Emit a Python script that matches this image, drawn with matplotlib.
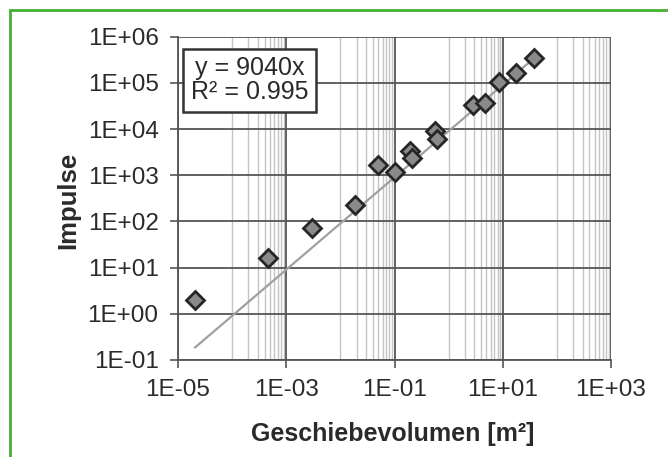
import numpy as np
import matplotlib
matplotlib.use("Agg")
import matplotlib.pyplot as plt
from matplotlib.ticker import FixedLocator, FuncFormatter, NullLocator
from matplotlib.patches import Rectangle

plt.rcParams['font.family'] = ['Liberation Sans', 'DejaVu Sans']

# data
volumen = [2.07e-5, 4.5e-4, 3.0e-3, 0.019, 0.050, 0.103, 0.19, 0.21,
           0.57, 0.62, 2.8, 4.7, 8.6, 17.5, 38.5]
impulse = [2.0, 16, 72, 230, 1650, 1200, 3300, 2350,
           9300, 6100, 33000, 37000, 103000, 161000, 340000]
slope = 9040
r2 = 0.995

x_ticks = [1e-5, 1e-3, 1e-1, 1e1, 1e3]
y_ticks = [1e-1, 1e0, 1e1, 1e2, 1e3, 1e4, 1e5, 1e6]

fig = plt.figure(figsize=(6.68, 4.57), dpi=100)
ax = fig.add_axes([0.2665, 0.2123, 0.6482, 0.7074])

ax.set_xscale('log')
ax.set_yscale('log')
ax.set_xlim(1e-5, 1e3)
ax.set_ylim(1e-1, 1e6)

# minor vertical lines (Excel style, base 100 axis)
minor_x = []
for e in [-4, -2, 0, 2]:
    for k in range(1, 10):
        minor_x.append(k * 10.0 ** e)
for mx in minor_x:
    ax.axvline(mx, color='#c4c4c4', lw=1.0, zorder=0)

for xt in x_ticks:
    ax.axvline(xt, color='#555555', lw=1.3, zorder=1)
for yt in y_ticks:
    ax.axhline(yt, color='#555555', lw=1.3, zorder=1)

# trend line y = 9040x
xs = np.array([min(volumen), max(volumen)])
ax.plot(xs, slope * xs, color='#a0a0a0', lw=1.6, zorder=2)

ax.plot(volumen, impulse, linestyle='none', marker='D', markersize=9.5,
        markerfacecolor='#8a8a8a', markeredgecolor='#262626',
        markeredgewidth=2, zorder=3)

ax.xaxis.set_major_locator(FixedLocator(x_ticks))
ax.yaxis.set_major_locator(FixedLocator(y_ticks))
ax.xaxis.set_minor_locator(NullLocator())
ax.yaxis.set_minor_locator(NullLocator())
fmt = FuncFormatter(lambda v, p: '{:.0E}'.format(v))
ax.xaxis.set_major_formatter(fmt)
ax.yaxis.set_major_formatter(fmt)

ax.tick_params(axis='both', direction='out', length=6, width=1.2,
               color='#555555', labelsize=17.5, labelcolor='#2a2a2a', pad=8)

for s in ['top', 'right']:
    ax.spines[s].set_visible(False)
for s in ['left', 'bottom']:
    ax.spines[s].set_color('#555555')
    ax.spines[s].set_linewidth(1.3)

ax.set_xlabel('Geschiebevolumen [m²]', fontsize=18, fontweight='bold',
              color='#2a2a2a')
ax.set_ylabel('Impulse', fontsize=18.5, fontweight='bold', color='#2a2a2a')
ax.xaxis.set_label_coords(0.495, -0.229)
ax.yaxis.set_label_coords(-0.254, 0.495)
ax.xaxis.label.set_va('center')
ax.yaxis.label.set_va('center')

ax.text(0.165, 0.866, 'y = 9040x\nR² = {:.3f}'.format(r2), transform=ax.transAxes,
        ha='center', va='center', multialignment='center', fontsize=18,
        color='#2a2a2a', linespacing=1.0, zorder=5,
        bbox=dict(boxstyle='square,pad=0.3', facecolor='white',
                  edgecolor='#333333', linewidth=1.8))

# green frame around the figure
fig.patches.append(Rectangle((10 / 668, -0.1), 1.2, 1 - 10 / 457 + 0.1,
                             transform=fig.transFigure, fill=False,
                             edgecolor='#46b035', linewidth=2, clip_on=False))

fig.savefig('out.png', dpi=100)
